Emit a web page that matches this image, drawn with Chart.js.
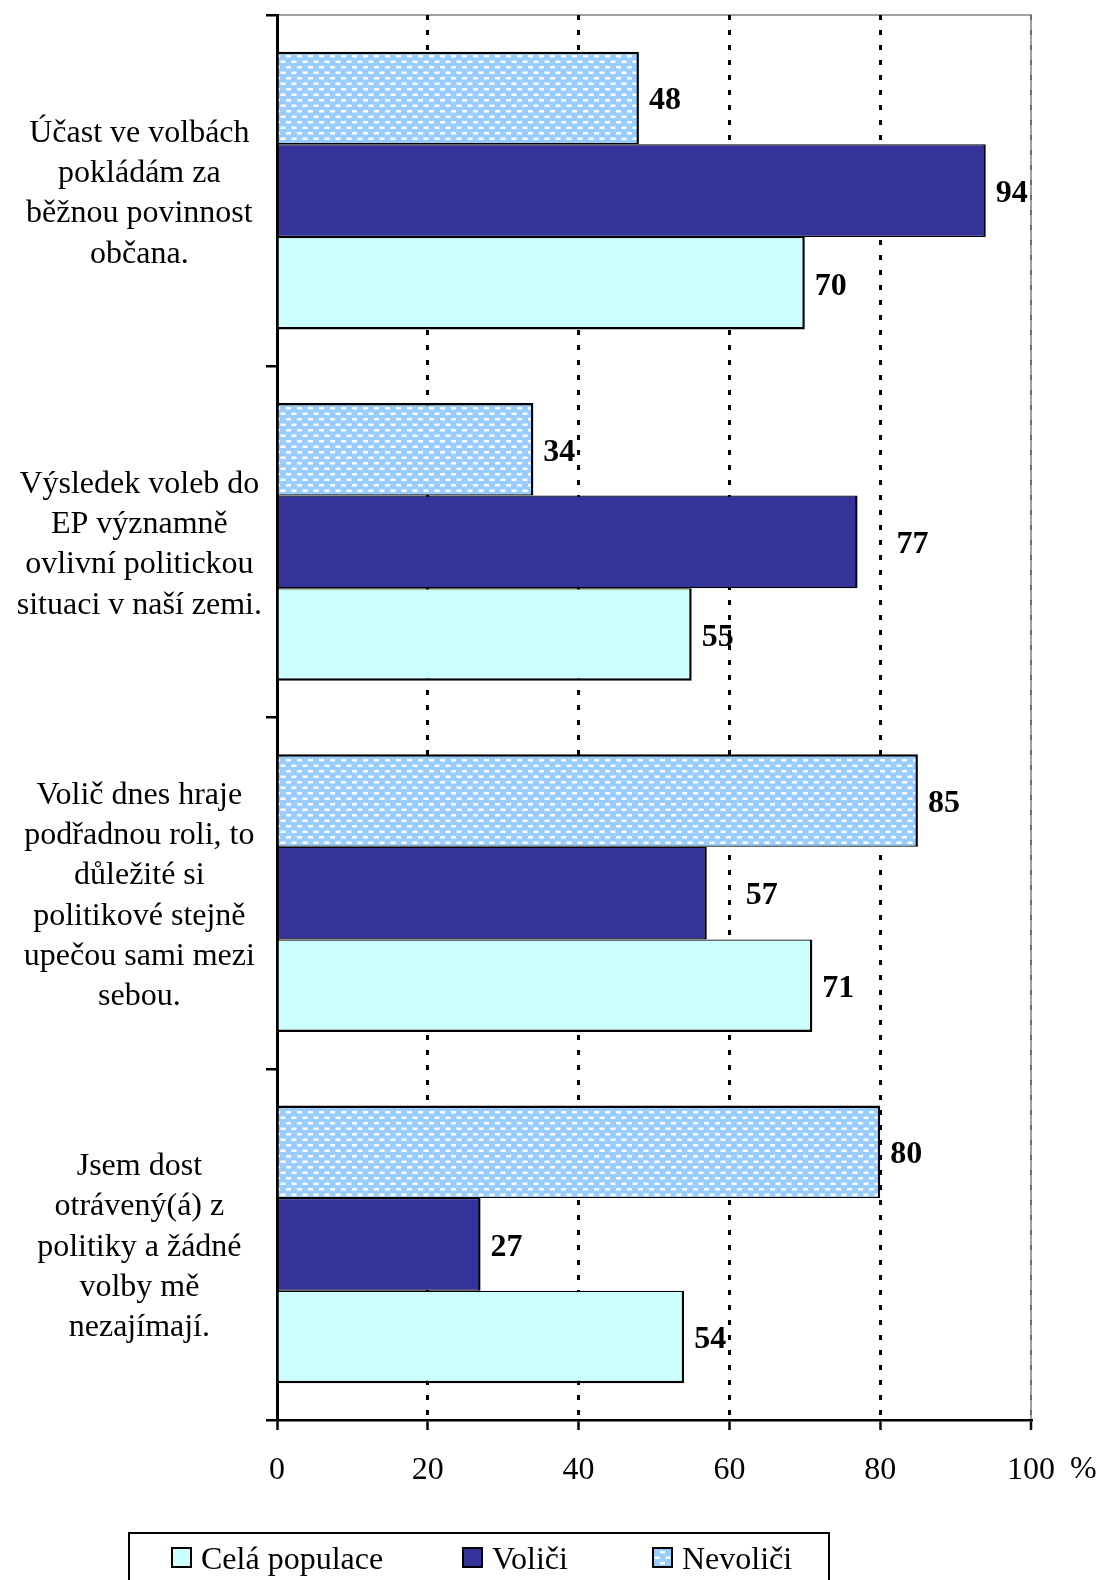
<!DOCTYPE html>
<html lang="cs">
<head>
<meta charset="utf-8">
<title>Účast ve volbách</title>
<script src="https://cdn.jsdelivr.net/npm/chart.js@4/dist/chart.umd.min.js"></script>
<style>
    html, body { margin: 0; padding: 0; background: #fff; }
    #chart-wrap { width: 1097px; height: 1580px; }
</style>
</head>
<body>
<div id="chart-wrap">
    <canvas id="opinionChart" width="1097" height="1580"></canvas>
</div>
<script>
// ========== DATA ==========
const categories = [
    ['Účast ve volbách', 'pokládám za', 'běžnou povinnost', 'občana.'],
    ['Výsledek voleb do', 'EP významně', 'ovlivní politickou', 'situaci v naší zemi.'],
    ['Volič dnes hraje', 'podřadnou roli, to', 'důležité si', 'politikové stejně', 'upečou sami mezi', 'sebou.'],
    ['Jsem dost', 'otrávený(á) z', 'politiky a žádné', 'volby mě', 'nezajímají.']
];
const nevolici = [48, 34, 85, 80];
const volici = [94, 77, 57, 27];
const celaPopulace = [70, 55, 71, 54];
const xTicks = [0, 20, 40, 60, 80, 100];

document.addEventListener("DOMContentLoaded", function() {
    const serif = "'Liberation Serif', 'Times New Roman', serif";

    // pattern for Nevoliči (light blue with small white dashes)
    function makePattern() {
        const tile = document.createElement('canvas');
        tile.width = 11;
        tile.height = 11;
        const t = tile.getContext('2d');
        t.fillStyle = '#99ccff';
        t.fillRect(0, 0, 11, 11);
        t.fillStyle = '#ffffff';
        t.fillRect(0, 0, 5, 2.5);
        t.fillRect(5.5, 5.5, 5, 2.5);
        return t.createPattern(tile, 'repeat');
    }
    const ctx = document.getElementById('opinionChart');
    const nevoliciFill = makePattern();

    // Excel moved two of the labels further right
    const labelNudge = { '1-1': 29, '1-2': 29 };

    // ========== CUSTOM PLUGINS ==========
    const frameLines = {
        id: 'frameLines',
        beforeDraw(chart) {
            const { ctx, chartArea } = chart;
            ctx.save();
            ctx.strokeStyle = '#a0a0a0';
            ctx.lineWidth = 2;
            ctx.beginPath();
            ctx.moveTo(chartArea.left, chartArea.top);
            ctx.lineTo(chartArea.right, chartArea.top);
            ctx.lineTo(chartArea.right, chartArea.bottom);
            ctx.stroke();
            ctx.restore();
        }
    };

    const valueLabels = {
        id: 'valueLabels',
        afterDatasetsDraw(chart) {
            const c = chart.ctx;
            c.save();
            c.font = 'bold 32px ' + serif;
            c.fillStyle = '#000';
            c.textAlign = 'left';
            c.textBaseline = 'middle';
            chart.data.datasets.forEach(function(ds, di) {
                const meta = chart.getDatasetMeta(di);
                meta.data.forEach(function(bar, i) {
                    const extra = labelNudge[di + '-' + i] || 0;
                    c.fillText(ds.data[i], bar.x + 10 + extra, bar.y + 3);
                });
            });
            c.restore();
        }
    };

    const percentSign = {
        id: 'percentSign',
        afterDraw(chart) {
            const c = chart.ctx;
            const xs = chart.scales.x;
            c.save();
            c.font = '32px ' + serif;
            c.fillStyle = '#000';
            c.textAlign = 'left';
            c.textBaseline = 'middle';
            c.fillText('%', xs.getPixelForValue(100) + 39, 1470);
            c.restore();
        }
    };

    // legend box at the bottom, order reversed to Celá / Voliči / Nevoliči
    const boxLegend = {
        id: 'boxLegend',
        afterDraw(chart) {
            const c = chart.ctx;
            const itemX = [172, 463, 653];
            c.save();
            c.strokeStyle = '#000';
            c.lineWidth = 2;
            c.strokeRect(129, 1533, 700, 80);
            c.font = '32px ' + serif;
            c.textBaseline = 'alphabetic';
            c.textAlign = 'left';
            const items = chart.data.datasets.slice().reverse();
            items.forEach(function(ds, k) {
                const x = itemX[k];
                c.fillStyle = ds.backgroundColor;
                c.fillRect(x, 1548, 19, 19);
                c.lineWidth = 2;
                c.strokeRect(x, 1548, 19, 19);
                c.fillStyle = '#000';
                c.fillText(ds.label, x + 29, 1569);
            });
            c.restore();
        }
    };

    // ========== CHART ==========
    new Chart(ctx, {
        type: 'bar',
        data: {
            labels: categories,
            datasets: [{
                label: 'Nevoliči',
                data: nevolici,
                backgroundColor: nevoliciFill,
                borderColor: '#000',
                borderWidth: { top: 2.5, right: 2.5, bottom: 1.3, left: 0 }
            }, {
                label: 'Voliči',
                data: volici,
                backgroundColor: '#333399',
                borderColor: '#000',
                borderWidth: { top: 1.3, right: 2.5, bottom: 1.3, left: 0 }
            }, {
                label: 'Celá populace',
                data: celaPopulace,
                backgroundColor: '#ccffff',
                borderColor: '#000',
                borderWidth: { top: 1.3, right: 2.5, bottom: 2.5, left: 0 }
            }]
        },
        options: {
            indexAxis: 'y',
            responsive: false,
            animation: false,
            devicePixelRatio: 1,
            layout: {
                padding: { top: 15, right: 66, bottom: 100, left: 0 }
            },
            datasets: {
                bar: {
                    categoryPercentage: 0.791,
                    barPercentage: 1.0,
                    borderSkipped: 'start',
                    inflateAmount: 0
                }
            },
            plugins: {
                legend: { display: false },
                tooltip: { enabled: false }
            },
            scales: {
                x: {
                    min: 0,
                    max: 100,
                    afterBuildTicks: function(scale) {
                        scale.ticks = xTicks.map(v => ({ value: v }));
                    },
                    afterFit: function(scale) {
                        scale.height = 60;
                    },
                    ticks: {
                        color: '#000',
                        padding: 21,
                        maxRotation: 0,
                        font: { family: serif, size: 32, lineHeight: 1.2 }
                    },
                    grid: {
                        color: function(c) {
                            if (c.tick && c.tick.value === 0) return 'rgba(0,0,0,0)';
                            if (c.tick && c.tick.value === 100) return '#6e6e6e';
                            return '#000';
                        },
                        lineWidth: function(c) {
                            return c.tick && c.tick.value === 100 ? 2 : 3;
                        },
                        tickColor: '#000',
                        tickWidth: 2.5,
                        tickLength: 10,
                        tickBorderDash: []
                    },
                    border: {
                        display: true,
                        color: '#000',
                        width: 2.5,
                        dash: [5, 10]
                    }
                },
                y: {
                    afterFit: function(scale) {
                        // multi-line labels sit inside their category, no extra room needed
                        scale.width = 277;
                        scale.paddingTop = 0;
                        scale.paddingBottom = 0;
                    },
                    ticks: {
                        color: '#000',
                        padding: 4,
                        labelOffset: 3,
                        crossAlign: 'center',
                        font: { family: serif, size: 32, lineHeight: 1.26 }
                    },
                    grid: {
                        drawOnChartArea: false,
                        drawTicks: true,
                        tickLength: 11,
                        tickColor: '#000',
                        tickWidth: 2.5,
                        color: '#000',
                        lineWidth: 2.5
                    },
                    border: {
                        display: true,
                        color: '#000',
                        width: 3
                    }
                }
            }
        },
        plugins: [frameLines, valueLabels, percentSign, boxLegend]
    });
});
</script>
</body>
</html>
